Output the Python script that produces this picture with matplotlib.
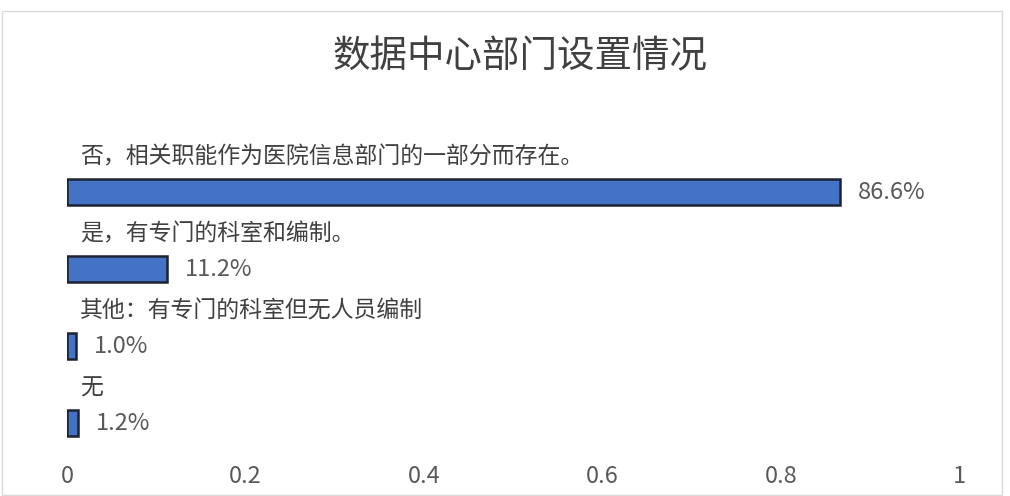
import matplotlib
matplotlib.use("Agg")
from matplotlib import pyplot as plt
from matplotlib.patches import Rectangle

plt.rcParams['font.family'] = ['Noto Sans CJK SC', 'DejaVu Sans']

# 数据
categories = ["否，相关职能作为医院信息部门的一部分而存在。",
              "是，有专门的科室和编制。",
              "其他：有专门的科室但无人员编制",
              "无"]
values = [0.866, 0.112, 0.010, 0.012]
value_labels = ["86.6%", "11.2%", "1.0%", "1.2%"]
ticks = [0, 0.2, 0.4, 0.6, 0.8, 1]
tick_labels = ["0", "0.2", "0.4", "0.6", "0.8", "1"]

fig = plt.figure(figsize=(10.10, 4.96), dpi=100)
ax = fig.add_axes([0.0663, 0.0685, 0.884, 0.649])

pos = list(range(len(categories)))[::-1]
ax.barh(pos, values, height=0.34, color="#4472C4", edgecolor="#1c2333", linewidth=1.8)

for p, cat, v, lab in zip(pos, categories, values, value_labels):
    ax.text(0.0146, p + 0.46, cat, fontsize=16.5, color="#404040", va="center", ha="left")
    ax.annotate(lab, xy=(v, p), xytext=(13, 0), textcoords="offset points",
                fontsize=17, color="#595959", va="center", ha="left")

ax.set_xlim(0, 1)
ax.set_ylim(-0.506, 3.675)
ax.set_xticks(ticks)
ax.set_xticklabels(tick_labels, fontsize=17, color="#595959")
ax.set_yticks([])
ax.tick_params(axis="x", length=0, pad=2)
for s in ax.spines.values():
    s.set_visible(False)

fig.text(0.515, 0.885, "数据中心部门设置情况", fontsize=27, color="#404040", ha="center", va="center")

# 外框
fig.patches.append(Rectangle((0.002, 0.003), 0.99, 0.975, transform=fig.transFigure,
                             fill=False, edgecolor="#d9d9d9", linewidth=1))

fig.savefig("out.png", dpi=100)
